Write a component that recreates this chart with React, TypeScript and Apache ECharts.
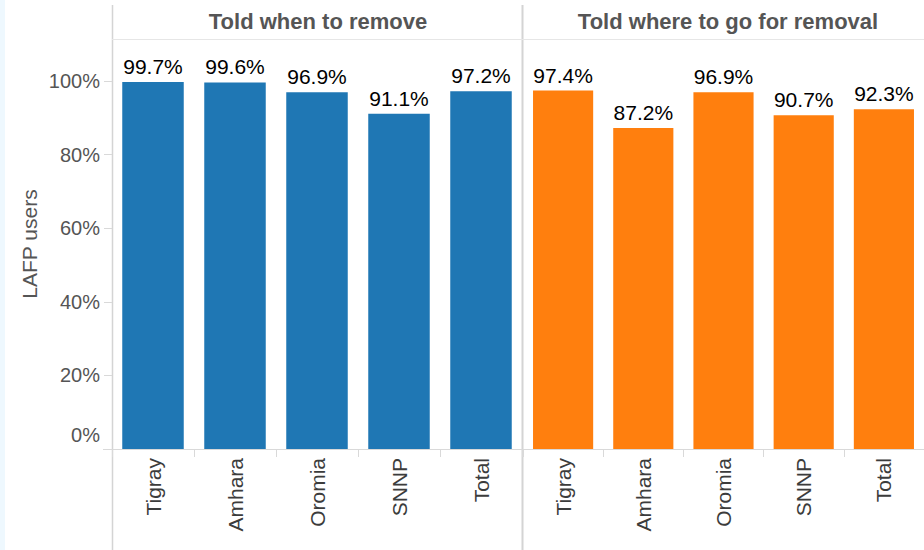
import React, { useEffect, useRef } from "react";
import * as echarts from "echarts";

const categories = ["Tigray", "Amhara", "Oromia", "SNNP", "Total"];
const whenValues = [99.7, 99.6, 96.9, 91.1, 97.2];
const whereValues = [97.4, 87.2, 96.9, 90.7, 92.3];
const panelTitles = ["Told when to remove", "Told where to go for removal"];
const yTicks = [0, 20, 40, 60, 80, 100];

const FONT = "Liberation Sans, Arial, sans-serif";

export default function App() {
  const ref = useRef<HTMLDivElement>(null);
  useEffect(() => {
    if (!ref.current) return;
    const chart = echarts.init(ref.current, null, { renderer: "svg" });
    const valueLabel = {
      show: true,
      position: "top",
      distance: 5,
      color: "#000",
      fontSize: 21,
      fontFamily: FONT,
      formatter: (p: any) => `${Number(p.value).toFixed(1)}%`,
    };
    const xAxisCommon = {
      type: "category",
      data: categories,
      axisLine: { show: true, lineStyle: { color: "#d9d9d9", width: 1 } },
      axisTick: { show: true, interval: 0, length: 8, lineStyle: { color: "#d9d9d9" } },
      axisLabel: {
        interval: 0,
        rotate: 90,
        margin: 9,
        fontSize: 21,
        color: "#3c3c3c",
        fontFamily: FONT,
      },
      splitLine: { show: false },
    };
    const gray = "#d4d4d4";
    chart.setOption({
      animation: false,
      backgroundColor: "#fff",
      textStyle: { fontFamily: FONT },
      grid: [
        { left: 112, width: 410, top: 39, bottom: 101 },
        { left: 523, width: 411, top: 39, bottom: 101 },
      ],
      xAxis: [
        { ...xAxisCommon, gridIndex: 0 },
        { ...xAxisCommon, gridIndex: 1 },
      ],
      yAxis: [
        {
          type: "value",
          gridIndex: 0,
          min: 0,
          max: 111.4,
          interval: 20,
          name: "LAFP users",
          nameLocation: "middle",
          nameRotate: 90,
          nameGap: 72,
          nameTextStyle: { fontSize: 21, color: "#555", fontFamily: FONT },
          axisLine: { show: false },
          axisTick: {
            show: true,
            length: 8,
            customValues: yTicks,
            lineStyle: { color: "#d9d9d9" },
          },
          axisLabel: {
            customValues: yTicks,
            fontSize: 20,
            color: "#555",
            margin: 12,
            fontFamily: FONT,
            formatter: (v: number) => (v === 0 ? `{z|0%}` : `${v}%`),
            rich: {
              z: { fontSize: 20, color: "#555", fontFamily: FONT, padding: [0, 0, 28, 0] },
            },
          },
          splitLine: { show: false },
        },
        {
          type: "value",
          gridIndex: 1,
          min: 0,
          max: 111.4,
          interval: 20,
          show: false,
          splitLine: { show: false },
        },
      ],
      series: [
        {
          type: "bar",
          xAxisIndex: 0,
          yAxisIndex: 0,
          data: whenValues,
          barWidth: "75%",
          itemStyle: { color: "#1f77b4" },
          label: valueLabel,
        },
        {
          type: "bar",
          xAxisIndex: 1,
          yAxisIndex: 1,
          data: whereValues,
          barWidth: "75%",
          itemStyle: { color: "#ff7f0e" },
          label: valueLabel,
        },
      ],
      graphic: [
        { type: "rect", shape: { x: 0, y: 0, width: 5, height: 550 }, style: { fill: "#eef8fe" }, silent: true },
        { type: "line", shape: { x1: 112.5, y1: 5, x2: 112.5, y2: 550 }, style: { stroke: gray, lineWidth: 1.5 }, silent: true },
        { type: "line", shape: { x1: 522.5, y1: 5, x2: 522.5, y2: 550 }, style: { stroke: gray, lineWidth: 2 }, silent: true },
        { type: "line", shape: { x1: 112, y1: 39.5, x2: 924, y2: 39.5 }, style: { stroke: "#e6e6e6", lineWidth: 1 }, silent: true },
        { type: "line", shape: { x1: 103, y1: 449.5, x2: 112, y2: 449.5 }, style: { stroke: "#d9d9d9", lineWidth: 1 }, silent: true },
        {
          type: "text",
          x: 318,
          y: 21,
          style: {
            text: panelTitles[0],
            fontSize: 22,
            fontWeight: "bold",
            fill: "#555",
            fontFamily: FONT,
            align: "center",
            verticalAlign: "middle",
          },
          silent: true,
        },
        {
          type: "text",
          x: 728,
          y: 21,
          style: {
            text: panelTitles[1],
            fontSize: 22,
            fontWeight: "bold",
            fill: "#555",
            fontFamily: FONT,
            align: "center",
            verticalAlign: "middle",
          },
          silent: true,
        },
      ],
    });
    return () => chart.dispose();
  }, []);
  return (
    <div
      ref={ref}
      style={{ position: "fixed", left: 0, top: 0, width: 924, height: 550, background: "#fff" }}
    />
  );
}
